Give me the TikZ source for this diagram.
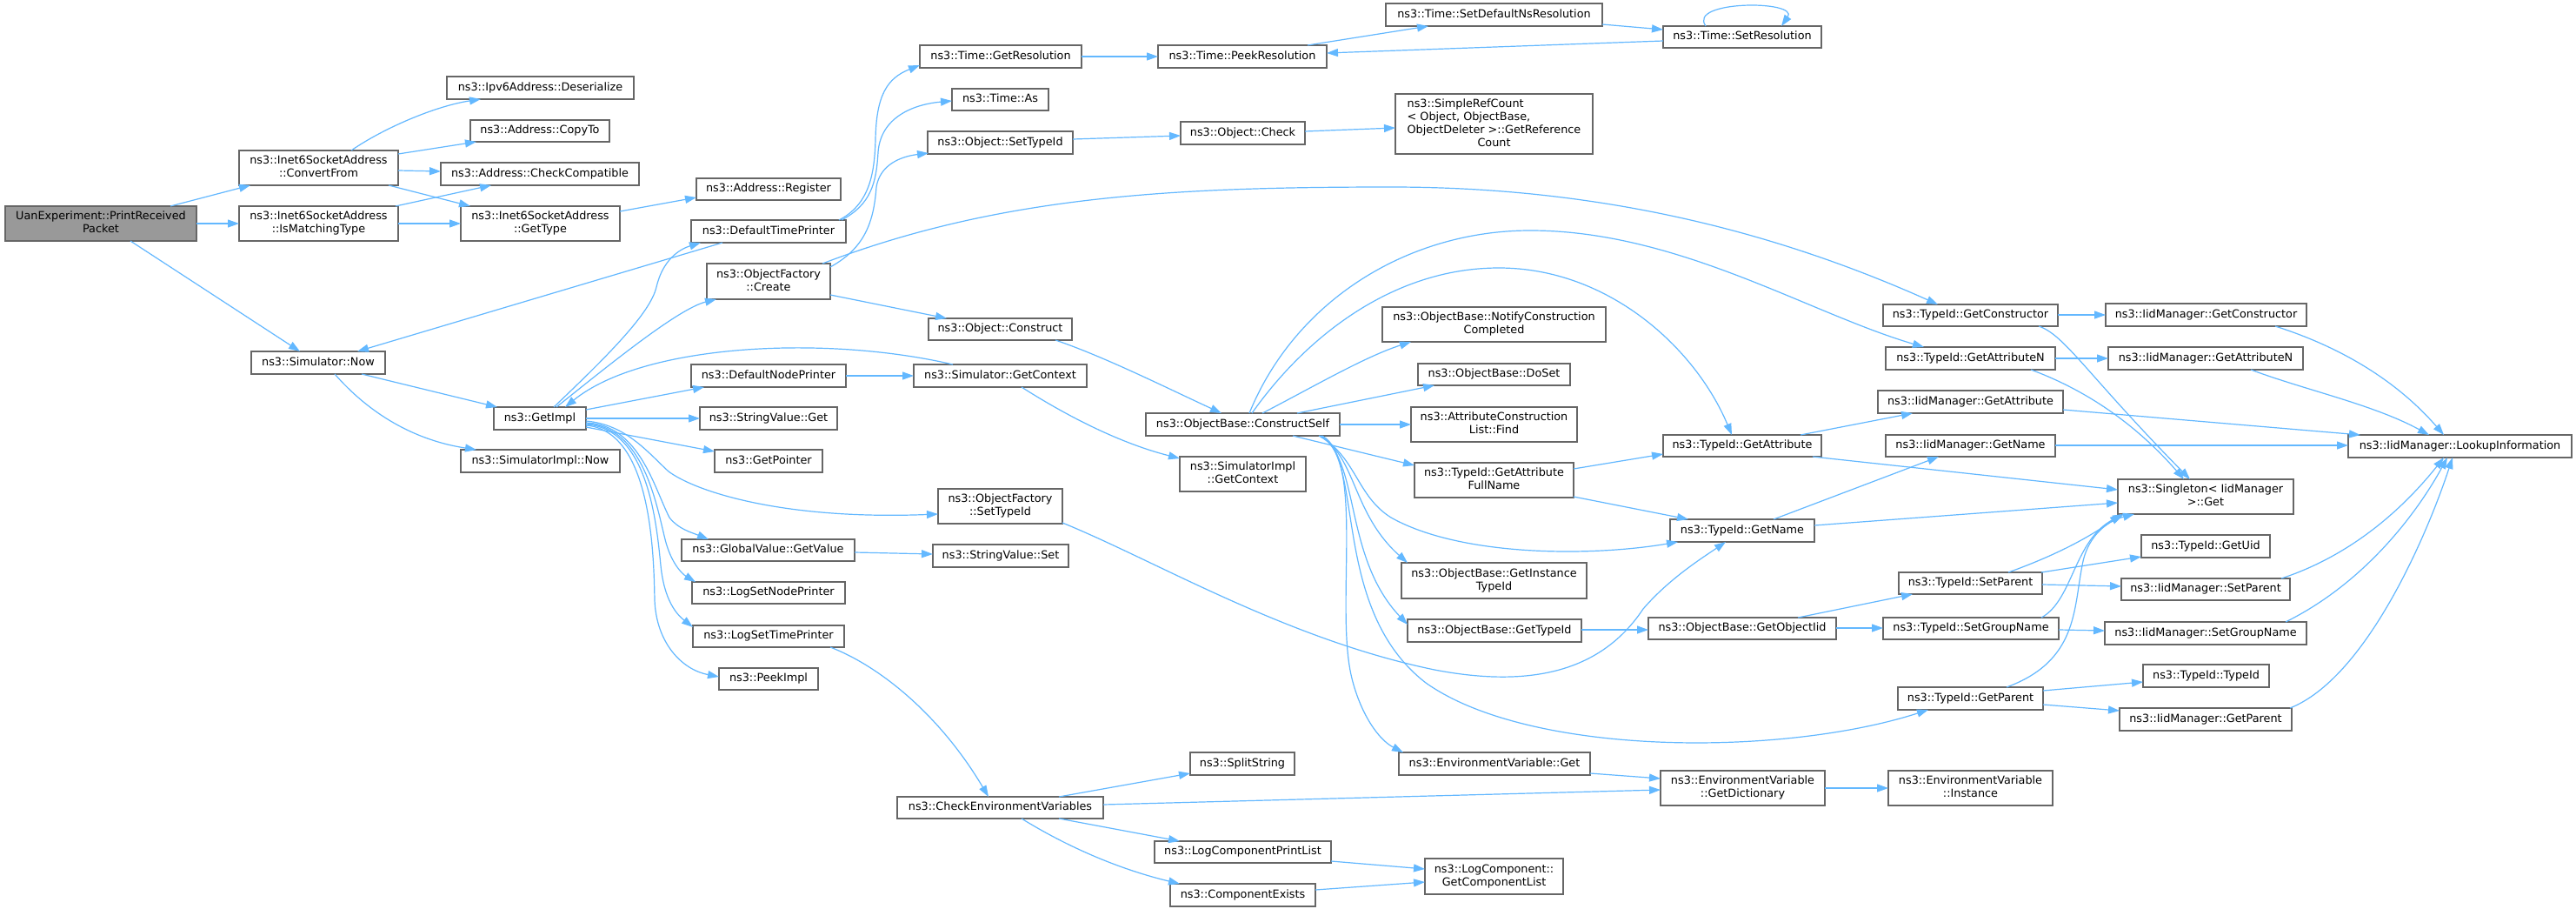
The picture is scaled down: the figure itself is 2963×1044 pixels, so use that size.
\documentclass[tikz,border=0pt]{standalone}
\usepackage{fontspec}
\setmainfont{DejaVu Sans}
\usetikzlibrary{arrows.meta}
\definecolor{edgec}{HTML}{63B8FF}
\definecolor{bord}{HTML}{666666}
\definecolor{rootf}{HTML}{999999}
\newcommand\mystrut{\rule[-3.2pt]{0pt}{12.2pt}}
\newcommand\NB[7][]{\node[nb,#1,minimum width={(#5)-(#3)},minimum height={(#6)-(#4)}] (#2) at ({((#3)+(#5))/2},{((#4)+(#6))/2}) {#7};}
\begin{document}
\begin{tikzpicture}[x=1pt,y=-1pt,
 nb/.style={draw=bord,fill=white,line width=1.2pt,inner sep=0pt,outer sep=0pt,align=center,
   font=\fontsize{12.8}{15}\selectfont,execute at begin node=\mystrut,execute at end node=\mystrut},
 e/.style={draw=edgec,line width=1.2pt,-{Triangle[length=13pt,width=9pt]}}]
\fill[white] (0,0) rectangle (2963,1044);
\useasboundingbox (0,0) rectangle (2963,1044);
% nodes
\NB[fill=rootf]{root}{6}{237}{226}{277}{UanExperiment::PrintReceived\\Packet}
\NB{convertFrom}{275}{173}{458}{213}{ns3::Inet6SocketAddress\\::ConvertFrom}
\NB{isMatching}{275}{237}{458}{277}{ns3::Inet6SocketAddress\\::IsMatchingType}
\NB{deserialize}{514}{88}{729}{114}{ns3::Ipv6Address::Deserialize}
\NB{copyTo}{541}{138}{701}{163}{ns3::Address::CopyTo}
\NB{checkCompat}{507}{187}{735}{213}{ns3::Address::CheckCompatible}
\NB{getType}{530}{237}{713}{277}{ns3::Inet6SocketAddress\\::GetType}
\NB{simNow}{289}{404}{443}{430}{ns3::Simulator::Now}
\NB{getImpl}{568}{468}{674}{494}{ns3::GetImpl}
\NB{simImplNow}{530}{517}{713}{543}{ns3::SimulatorImpl::Now}
\NB{register}{801}{205}{967}{230}{ns3::Address::Register}
\NB{dtp}{795}{253}{973}{279}{ns3::DefaultTimePrinter}
\NB{create}{813}{303}{955}{344}{ns3::ObjectFactory\\::Create}
\NB{dnp}{795}{419}{973}{445}{ns3::DefaultNodePrinter}
\NB{svGet}{805}{468}{963}{494}{ns3::StringValue::Get}
\NB{getPointer}{822}{517}{946}{543}{ns3::GetPointer}
\NB{gvGetValue}{784}{620}{983}{645}{ns3::GlobalValue::GetValue}
\NB{logSetNode}{796}{669}{972}{694}{ns3::LogSetNodePrinter}
\NB{logSetTime}{797}{719}{971}{744}{ns3::LogSetTimePrinter}
\NB{peekImpl}{827}{768}{941}{793}{ns3::PeekImpl}
\NB{getRes}{1058}{52}{1244}{78}{ns3::Time::GetResolution}
\NB{timeAs}{1095}{102}{1206}{127}{ns3::Time::As}
\NB{objSetTypeId}{1067}{151}{1234}{177}{ns3::Object::SetTypeId}
\NB{objConstruct}{1068}{366}{1233}{391}{ns3::Object::Construct}
\NB{simGetContext}{1051}{419}{1250}{445}{ns3::Simulator::GetContext}
\NB{ofSetTypeId}{1079}{562}{1222}{602}{ns3::ObjectFactory\\::SetTypeId}
\NB{svSet}{1073}{626}{1229}{652}{ns3::StringValue::Set}
\NB{checkEnv}{1032}{916}{1269}{941}{ns3::CheckEnvironmentVariables}
\NB{objCheck}{1358}{140}{1501}{166}{ns3::Object::Check}
\NB{peekRes}{1332}{52}{1526}{78}{ns3::Time::PeekResolution}
\NB{constructSelf}{1318}{475}{1541}{501}{ns3::ObjectBase::ConstructSelf}
\NB{simImplGetContext}{1357}{525}{1502}{565}{ns3::SimulatorImpl\\::GetContext}
\NB{splitString}{1369}{865}{1489}{891}{ns3::SplitString}
\NB{logCompPrint}{1328}{967}{1531}{992}{ns3::LogComponentPrintList}
\NB{compExists}{1346}{1016}{1513}{1042}{ns3::ComponentExists}
\NB{setDefNs}{1594}{4}{1843}{30}{ns3::Time::SetDefaultNsResolution}
\NB{simpleRef}{1605}{108}{1832}{177}{\begin{tabular}{@{}l@{}}ns3::SimpleRefCount\\< Object, ObjectBase,\\ ObjectDeleter >::GetReference\\\multicolumn{1}{@{}c@{}}{Count}\end{tabular}}
\NB{notify}{1590}{353}{1847}{393}{ns3::ObjectBase::NotifyConstruction\\Completed}
\NB{doSet}{1631}{418}{1806}{443}{ns3::ObjectBase::DoSet}
\NB{find}{1623}{468}{1814}{508}{ns3::AttributeConstruction\\List::Find}
\NB{getAttrFull}{1627}{532}{1810}{572}{ns3::TypeId::GetAttribute\\FullName}
\NB{instTypeId}{1612}{647}{1825}{688}{ns3::ObjectBase::GetInstance\\TypeId}
\NB{obGetTypeId}{1619}{712}{1819}{738}{ns3::ObjectBase::GetTypeId}
\NB{envGet}{1609}{865}{1829}{891}{ns3::EnvironmentVariable::Get}
\NB{getCompList}{1639}{987}{1798}{1028}{ns3::LogComponent::\\GetComponentList}
\NB{setRes}{1913}{30}{2095}{55}{ns3::Time::SetResolution}
\NB{tGetAttr}{1913}{500}{2095}{525}{ns3::TypeId::GetAttribute}
\NB{tGetName}{1921}{597}{2087}{623}{ns3::TypeId::GetName}
\NB{getObjIid}{1896}{710}{2112}{735}{ns3::ObjectBase::GetObjectIid}
\NB{getDict}{1910}{886}{2099}{926}{ns3::EnvironmentVariable\\::GetDictionary}
\NB{tGetCtor}{2166}{350}{2367}{375}{ns3::TypeId::GetConstructor}
\NB{tGetAttrN}{2169}{399}{2364}{425}{ns3::TypeId::GetAttributeN}
\NB{iGetAttr}{2160}{449}{2373}{475}{ns3::IidManager::GetAttribute}
\NB{iGetName}{2169}{500}{2364}{525}{ns3::IidManager::GetName}
\NB{tSetParent}{2184}{658}{2349}{683}{ns3::TypeId::SetParent}
\NB{tSetGroup}{2166}{710}{2368}{735}{ns3::TypeId::SetGroupName}
\NB{tGetParent}{2183}{790}{2350}{816}{ns3::TypeId::GetParent}
\NB{envInstance}{2172}{886}{2361}{926}{ns3::EnvironmentVariable\\::Instance}
\NB{iGetCtor}{2422}{349}{2653}{375}{ns3::IidManager::GetConstructor}
\NB{iGetAttrN}{2425}{399}{2649}{425}{ns3::IidManager::GetAttributeN}
\NB{singleton}{2436}{551}{2638}{591}{ns3::Singleton< IidManager\\ >::Get}
\NB{getUid}{2463}{615}{2611}{641}{ns3::TypeId::GetUid}
\NB{iSetParent}{2440}{665}{2634}{690}{ns3::IidManager::SetParent}
\NB{iSetGroup}{2421}{715}{2653}{741}{ns3::IidManager::SetGroupName}
\NB{typeIdCtor}{2465}{764}{2610}{790}{ns3::TypeId::TypeId}
\NB{iGetParent}{2438}{814}{2636}{840}{ns3::IidManager::GetParent}
\NB{lookup}{2701}{500}{2958}{526}{ns3::IidManager::LookupInformation}
% edges
\draw[e] ([shift={(190,0)}]root.north west) -- ([shift={(13,40)}]convertFrom.north west);
\draw[e] ([shift={(220,20)}]root.north west) -- ([shift={(0,20)}]isMatching.north west);
\draw[e] ([shift={(144,40)}]root.north west) -- ([shift={(56,0)}]simNow.north west);
\draw[e] ([shift={(129,0)}]convertFrom.north west) .. controls (440,148) and (500,122) .. ([shift={(39,26)}]deserialize.north west);
\draw[e] ([shift={(183,4)}]convertFrom.north west) -- ([shift={(7,25)}]copyTo.north west);
\draw[e] ([shift={(183,23)}]convertFrom.north west) -- ([shift={(0,10)}]checkCompat.north west);
\draw[e] ([shift={(172,40)}]convertFrom.north west) -- ([shift={(11,0)}]getType.north west);
\draw[e] ([shift={(180,0)}]isMatching.north west) -- ([shift={(58,26)}]checkCompat.north west);
\draw[e] ([shift={(183,20)}]isMatching.north west) -- ([shift={(0,20)}]getType.north west);
\draw[e] ([shift={(183,6)}]getType.north west) -- ([shift={(0,22)}]register.north west);
\draw[e] ([shift={(127,26)}]simNow.north west) -- ([shift={(4,0)}]getImpl.north west);
\draw[e] ([shift={(96,26)}]simNow.north west) .. controls (420,470) and (470,505) .. ([shift={(18,0)}]simImplNow.north west);
\draw[e] ([shift={(69,0)}]getImpl.north west) .. controls (700,408) and (748,360) .. (755,330) .. controls (762,300) and (780,287) .. ([shift={(11,26)}]dtp.north west);
\draw[e] ([shift={(72,0)}]getImpl.north west) .. controls (700,420) and (780,355) .. ([shift={(11,41)}]create.north west);
\draw[e] ([shift={(106,3)}]getImpl.north west) -- ([shift={(15,26)}]dnp.north west);
\draw[e] ([shift={(106,13)}]getImpl.north west) -- ([shift={(0,13)}]svGet.north west);
\draw[e] ([shift={(106,23)}]getImpl.north west) -- ([shift={(0,2)}]getPointer.north west);
\draw[e] ([shift={(106,16)}]getImpl.north west) .. controls (720,488) and (745,520) .. (769,542) .. controls (800,565) and (900,598) .. ([shift={(0,29)}]ofSetTypeId.north west);
\draw[e] ([shift={(106,18)}]getImpl.north west) .. controls (735,488) and (752,560) .. (770,595) .. controls (780,608) and (795,612) .. ([shift={(31,0)}]gvGetValue.north west);
\draw[e] ([shift={(106,19)}]getImpl.north west) .. controls (740,490) and (755,580) .. (765,620) .. controls (772,648) and (785,660) .. ([shift={(4,0)}]logSetNode.north west);
\draw[e] ([shift={(106,20)}]getImpl.north west) .. controls (745,492) and (755,600) .. (760,650) .. controls (764,690) and (778,706) .. ([shift={(0,2)}]logSetTime.north west);
\draw[e] ([shift={(106,21)}]getImpl.north west) .. controls (750,495) and (752,640) .. (753,690) .. controls (755,740) and (785,770) .. ([shift={(0,10)}]peekImpl.north west);
\draw[e] ([shift={(170,0)}]dtp.north west) .. controls (1000,235) and (1006,200) .. (1007,160) .. controls (1008,110) and (1020,90) .. ([shift={(0,23)}]getRes.north west);
\draw[e] ([shift={(173,0)}]dtp.north west) .. controls (1002,235) and (1008,210) .. (1010,175) .. controls (1013,135) and (1050,120) .. ([shift={(0,14)}]timeAs.north west);
\draw[e] ([shift={(36,26)}]dtp.north west) -- ([shift={(122,0)}]simNow.north west);
\draw[e] ([shift={(142,4)}]create.north west) .. controls (995,285) and (1005,255) .. (1008,215) .. controls (1012,190) and (1035,180) .. ([shift={(1,25)}]objSetTypeId.north west);
\draw[e] ([shift={(142,36)}]create.north west) -- ([shift={(21,0)}]objConstruct.north west);
\draw[e] ([shift={(133,0)}]create.north west) .. controls (1150,225) and (1350,215) .. (1600,215) .. controls (1850,215) and (2050,270) .. ([shift={(63,0)}]tGetCtor.north west);
\draw[e] ([shift={(167,9)}]objSetTypeId.north west) -- ([shift={(0,16)}]objCheck.north west);
\draw[e] ([shift={(143,11)}]objCheck.north west) -- ([shift={(0,39)}]simpleRef.north west);
\draw[e] ([shift={(186,13)}]getRes.north west) -- ([shift={(0,13)}]peekRes.north west);
\draw[e] ([shift={(172,0)}]peekRes.north west) -- ([shift={(49,26)}]setDefNs.north west);
\draw[e] ([shift={(249,24)}]setDefNs.north west) -- ([shift={(0,4)}]setRes.north west);
\draw[e] ([shift={(0,17)}]setRes.north west) -- ([shift={(194,9)}]peekRes.north west);
\draw[e] ([shift={(49,0)}]setRes.north west) .. controls (1940,0) and (2070,0) .. ([shift={(136,0)}]setRes.north west);
\draw[e] ([shift={(146,25)}]objConstruct.north west) .. controls (1270,410) and (1340,445) .. ([shift={(87,0)}]constructSelf.north west);
\draw[e] ([shift={(178,13)}]dnp.north west) -- ([shift={(0,13)}]simGetContext.north west);
\draw[e] ([shift={(45,0)}]simGetContext.north west) .. controls (950,385) and (740,395) .. ([shift={(82,0)}]getImpl.north west);
\draw[e] ([shift={(124,26)}]simGetContext.north west) .. controls (1230,480) and (1290,510) .. ([shift={(0,2)}]simImplGetContext.north west);
\draw[e] ([shift={(199,15)}]gvGetValue.north west) -- ([shift={(0,11)}]svSet.north west);
\draw[e] ([shift={(143,39)}]ofSetTypeId.north west) .. controls (1330,645) and (1480,735) .. (1650,770) .. controls (1780,795) and (1850,760) .. (1890,700) .. controls (1920,665) and (1960,640) .. ([shift={(64,26)}]tGetName.north west);
\draw[e] ([shift={(158,25)}]logSetTime.north west) .. controls (1010,765) and (1080,820) .. ([shift={(105,0)}]checkEnv.north west);
\draw[e] ([shift={(186,0)}]checkEnv.north west) -- ([shift={(0,24)}]splitString.north west);
\draw[e] ([shift={(237,9)}]checkEnv.north west) -- ([shift={(0,22)}]getDict.north west);
\draw[e] ([shift={(186,25)}]checkEnv.north west) -- ([shift={(29,0)}]logCompPrint.north west);
\draw[e] ([shift={(143,25)}]checkEnv.north west) .. controls (1230,975) and (1290,1000) .. ([shift={(11,0)}]compExists.north west);
\draw[e] ([shift={(203,23)}]logCompPrint.north west) -- ([shift={(0,12)}]getCompList.north west);
\draw[e] ([shift={(167,7)}]compExists.north west) -- ([shift={(0,27)}]getCompList.north west);
\draw[e] ([shift={(119,0)}]constructSelf.north west) .. controls (1490,345) and (1620,265) .. (1760,265) .. controls (1930,265) and (2080,360) .. ([shift={(44,0)}]tGetAttrN.north west);
\draw[e] ([shift={(122,0)}]constructSelf.north west) .. controls (1500,390) and (1600,308) .. (1724,308) .. controls (1850,308) and (1950,400) .. ([shift={(79,0)}]tGetAttr.north west);
\draw[e] ([shift={(134,0)}]constructSelf.north west) .. controls (1510,445) and (1570,410) .. ([shift={(33,40)}]notify.north west);
\draw[e] ([shift={(174,0)}]constructSelf.north west) -- ([shift={(19,25)}]doSet.north west);
\draw[e] ([shift={(223,13)}]constructSelf.north west) -- ([shift={(0,20)}]find.north west);
\draw[e] ([shift={(169,26)}]constructSelf.north west) -- ([shift={(0,3)}]getAttrFull.north west);
\draw[e] ([shift={(199,26)}]constructSelf.north west) .. controls (1560,525) and (1560,570) .. (1600,595) .. controls (1680,640) and (1830,640) .. ([shift={(9,26)}]tGetName.north west);
\draw[e] ([shift={(200,26)}]constructSelf.north west) .. controls (1560,525) and (1555,590) .. ([shift={(7,0)}]instTypeId.north west);
\draw[e] ([shift={(201,26)}]constructSelf.north west) .. controls (1565,530) and (1545,640) .. ([shift={(0,6)}]obGetTypeId.north west);
\draw[e] ([shift={(202,26)}]constructSelf.north west) .. controls (1570,530) and (1530,700) .. (1640,785) .. controls (1760,870) and (2050,870) .. ([shift={(35,26)}]tGetParent.north west);
\draw[e] ([shift={(203,26)}]constructSelf.north west) .. controls (1570,530) and (1535,700) .. (1555,780) .. controls (1565,820) and (1585,850) .. ([shift={(5,0)}]envGet.north west);
\draw[e] ([shift={(201,12)}]tGetCtor.north west) -- ([shift={(0,13)}]iGetCtor.north west);
\draw[e] ([shift={(179,25)}]tGetCtor.north west) .. controls (2375,385) and (2400,430) .. ([shift={(83,0)}]singleton.north west);
\draw[e] ([shift={(195,13)}]tGetAttrN.north west) -- ([shift={(0,13)}]iGetAttrN.north west);
\draw[e] ([shift={(167,26)}]tGetAttrN.north west) .. controls (2390,445) and (2450,480) .. ([shift={(76,0)}]singleton.north west);
\draw[e] ([shift={(195,26)}]iGetCtor.north west) .. controls (2680,395) and (2750,430) .. ([shift={(110,0)}]lookup.north west);
\draw[e] ([shift={(164,26)}]iGetAttrN.north west) .. controls (2650,448) and (2730,465) .. ([shift={(93,0)}]lookup.north west);
\draw[e] ([shift={(213,22)}]iGetAttr.north west) -- ([shift={(14,0)}]lookup.north west);
\draw[e] ([shift={(195,12)}]iGetName.north west) -- ([shift={(0,12)}]lookup.north west);
\draw[e] ([shift={(158,0)}]tGetAttr.north west) -- ([shift={(40,26)}]iGetAttr.north west);
\draw[e] ([shift={(172,25)}]tGetAttr.north west) -- ([shift={(0,12)}]singleton.north west);
\draw[e] ([shift={(119,0)}]tGetName.north west) -- ([shift={(61,25)}]iGetName.north west);
\draw[e] ([shift={(166,7)}]tGetName.north west) -- ([shift={(0,27)}]singleton.north west);
\draw[e] ([shift={(183,7)}]getAttrFull.north west) -- ([shift={(0,22)}]tGetAttr.north west);
\draw[e] ([shift={(183,39)}]getAttrFull.north west) -- ([shift={(21,0)}]tGetName.north west);
\draw[e] ([shift={(200,12)}]obGetTypeId.north west) -- ([shift={(0,14)}]getObjIid.north west);
\draw[e] ([shift={(172,0)}]getObjIid.north west) -- ([shift={(16,25)}]tSetParent.north west);
\draw[e] ([shift={(216,12)}]getObjIid.north west) -- ([shift={(0,12)}]tSetGroup.north west);
\draw[e] ([shift={(164,0)}]tSetParent.north west) -- ([shift={(0,25)}]getUid.north west);
\draw[e] ([shift={(165,14)}]tSetParent.north west) -- ([shift={(0,9)}]iSetParent.north west);
\draw[e] ([shift={(126,0)}]tSetParent.north west) .. controls (2360,640) and (2400,620) .. ([shift={(4,40)}]singleton.north west);
\draw[e] ([shift={(202,14)}]tSetGroup.north west) -- ([shift={(0,10)}]iSetGroup.north west);
\draw[e] ([shift={(182,0)}]tSetGroup.north west) .. controls (2385,690) and (2385,620) .. ([shift={(7,40)}]singleton.north west);
\draw[e] ([shift={(167,4)}]tGetParent.north west) -- ([shift={(0,20)}]typeIdCtor.north west);
\draw[e] ([shift={(167,20)}]tGetParent.north west) -- ([shift={(0,3)}]iGetParent.north west);
\draw[e] ([shift={(125,0)}]tGetParent.north west) .. controls (2390,760) and (2385,700) .. (2395,650) .. controls (2400,620) and (2420,600) .. ([shift={(19,40)}]singleton.north west);
\draw[e] ([shift={(184,0)}]iSetParent.north west) .. controls (2700,640) and (2760,590) .. ([shift={(110,26)}]lookup.north west);
\draw[e] ([shift={(208,0)}]iSetGroup.north west) .. controls (2720,670) and (2780,590) .. ([shift={(114,26)}]lookup.north west);
\draw[e] ([shift={(196,0)}]iGetParent.north west) .. controls (2720,780) and (2790,620) .. ([shift={(120,26)}]lookup.north west);
\draw[e] ([shift={(220,24)}]envGet.north west) -- ([shift={(0,9)}]getDict.north west);
\draw[e] ([shift={(189,20)}]getDict.north west) -- ([shift={(0,20)}]envInstance.north west);
\end{tikzpicture}
\end{document}
